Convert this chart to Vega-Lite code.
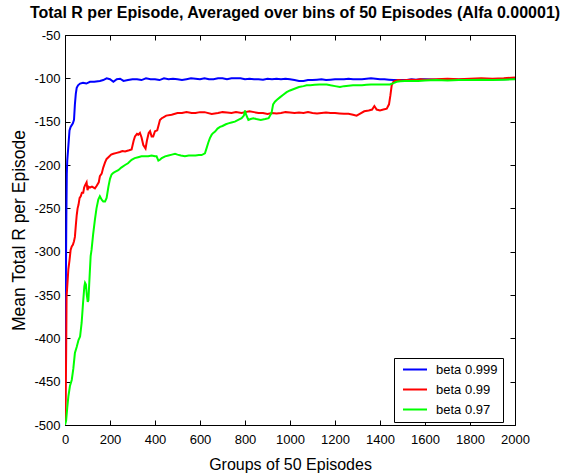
{
  "$schema": "https://vega.github.io/schema/vega-lite/v6.json",
  "width": 450,
  "height": 390,
  "autosize": {"type": "none"},
  "padding": {"left": 65, "top": 35, "right": 50, "bottom": 48},
  "background": "white",
  "title": {
    "text": "Total R per Episode, Averaged over bins of 50 Episodes (Alfa 0.00001)",
    "font": "Liberation Sans",
    "fontSize": 16,
    "fontWeight": "bold",
    "color": "black",
    "anchor": "middle",
    "frame": "group",
    "dx": 5,
    "offset": 8
  },
  "config": {
    "view": {"stroke": "black", "strokeWidth": 1},
    "axis": {"grid": false, "domain": false, "labelFont": "Liberation Sans", "titleFont": "Liberation Sans", "labelColor": "black", "titleColor": "black", "tickColor": "black", "labelFontSize": 13, "titleFontSize": 16, "titleFontWeight": "normal"}
  },
  "data": {"values": [
    {"s":"beta 0.999","x":0,"y":-500},{"s":"beta 0.999","x":2,"y":-420},{"s":"beta 0.999","x":4,"y":-330},{"s":"beta 0.999","x":6,"y":-260},{"s":"beta 0.999","x":8,"y":-210},{"s":"beta 0.999","x":10,"y":-195},{"s":"beta 0.999","x":15,"y":-178},{"s":"beta 0.999","x":20,"y":-160},{"s":"beta 0.999","x":25,"y":-156},{"s":"beta 0.999","x":30,"y":-154},{"s":"beta 0.999","x":35,"y":-152},{"s":"beta 0.999","x":40,"y":-148},{"s":"beta 0.999","x":44,"y":-130},{"s":"beta 0.999","x":48,"y":-118},{"s":"beta 0.999","x":52,"y":-111},{"s":"beta 0.999","x":58,"y":-108},{"s":"beta 0.999","x":67,"y":-106},{"s":"beta 0.999","x":80,"y":-105},{"s":"beta 0.999","x":95,"y":-106},{"s":"beta 0.999","x":111,"y":-104},{"s":"beta 0.999","x":130,"y":-104},{"s":"beta 0.999","x":155,"y":-103},{"s":"beta 0.999","x":170,"y":-102},{"s":"beta 0.999","x":185,"y":-100},{"s":"beta 0.999","x":200,"y":-101},{"s":"beta 0.999","x":215,"y":-104},{"s":"beta 0.999","x":230,"y":-101},{"s":"beta 0.999","x":245,"y":-100.5},{"s":"beta 0.999","x":260,"y":-103},{"s":"beta 0.999","x":280,"y":-102},{"s":"beta 0.999","x":300,"y":-101},{"s":"beta 0.999","x":320,"y":-101},{"s":"beta 0.999","x":340,"y":-102},{"s":"beta 0.999","x":360,"y":-100},{"s":"beta 0.999","x":380,"y":-101},{"s":"beta 0.999","x":400,"y":-101},{"s":"beta 0.999","x":420,"y":-102},{"s":"beta 0.999","x":440,"y":-100},{"s":"beta 0.999","x":460,"y":-101},{"s":"beta 0.999","x":480,"y":-100.5},{"s":"beta 0.999","x":500,"y":-101},{"s":"beta 0.999","x":520,"y":-102},{"s":"beta 0.999","x":540,"y":-101},{"s":"beta 0.999","x":560,"y":-100},{"s":"beta 0.999","x":580,"y":-100.5},{"s":"beta 0.999","x":600,"y":-101},{"s":"beta 0.999","x":620,"y":-100},{"s":"beta 0.999","x":640,"y":-101},{"s":"beta 0.999","x":660,"y":-101},{"s":"beta 0.999","x":680,"y":-100},{"s":"beta 0.999","x":700,"y":-100},{"s":"beta 0.999","x":720,"y":-101},{"s":"beta 0.999","x":740,"y":-100},{"s":"beta 0.999","x":760,"y":-100},{"s":"beta 0.999","x":780,"y":-100},{"s":"beta 0.999","x":800,"y":-101},{"s":"beta 0.999","x":820,"y":-100.5},{"s":"beta 0.999","x":840,"y":-101},{"s":"beta 0.999","x":860,"y":-101},{"s":"beta 0.999","x":880,"y":-101.5},{"s":"beta 0.999","x":900,"y":-100.5},{"s":"beta 0.999","x":920,"y":-101},{"s":"beta 0.999","x":940,"y":-100.5},{"s":"beta 0.999","x":960,"y":-101},{"s":"beta 0.999","x":980,"y":-100.5},{"s":"beta 0.999","x":1000,"y":-101},{"s":"beta 0.999","x":1020,"y":-102},{"s":"beta 0.999","x":1040,"y":-103},{"s":"beta 0.999","x":1060,"y":-103},{"s":"beta 0.999","x":1080,"y":-102},{"s":"beta 0.999","x":1100,"y":-102},{"s":"beta 0.999","x":1120,"y":-101.5},{"s":"beta 0.999","x":1140,"y":-101},{"s":"beta 0.999","x":1160,"y":-102},{"s":"beta 0.999","x":1180,"y":-101.5},{"s":"beta 0.999","x":1200,"y":-101},{"s":"beta 0.999","x":1220,"y":-101},{"s":"beta 0.999","x":1240,"y":-101},{"s":"beta 0.999","x":1260,"y":-100.5},{"s":"beta 0.999","x":1280,"y":-101},{"s":"beta 0.999","x":1300,"y":-101},{"s":"beta 0.999","x":1320,"y":-101},{"s":"beta 0.999","x":1340,"y":-100.5},{"s":"beta 0.999","x":1360,"y":-100},{"s":"beta 0.999","x":1380,"y":-100.5},{"s":"beta 0.999","x":1400,"y":-101},{"s":"beta 0.999","x":1420,"y":-101},{"s":"beta 0.999","x":1440,"y":-101.5},{"s":"beta 0.999","x":1460,"y":-102},{"s":"beta 0.999","x":1480,"y":-102},{"s":"beta 0.999","x":1500,"y":-102},{"s":"beta 0.999","x":1520,"y":-102},{"s":"beta 0.999","x":1540,"y":-101},{"s":"beta 0.999","x":1560,"y":-101.5},{"s":"beta 0.999","x":1580,"y":-101},{"s":"beta 0.999","x":1600,"y":-101},{"s":"beta 0.999","x":1650,"y":-101.5},{"s":"beta 0.999","x":1700,"y":-101},{"s":"beta 0.999","x":1750,"y":-101.5},{"s":"beta 0.999","x":1800,"y":-101},{"s":"beta 0.999","x":1850,"y":-101.5},{"s":"beta 0.999","x":1900,"y":-101},{"s":"beta 0.999","x":1950,"y":-101},{"s":"beta 0.999","x":2000,"y":-100.5},

    {"s":"beta 0.99","x":0,"y":-500},{"s":"beta 0.99","x":3,"y":-470},{"s":"beta 0.99","x":5,"y":-420},{"s":"beta 0.99","x":7,"y":-352},{"s":"beta 0.99","x":10,"y":-340},{"s":"beta 0.99","x":15,"y":-320},{"s":"beta 0.99","x":20,"y":-310},{"s":"beta 0.99","x":25,"y":-298},{"s":"beta 0.99","x":30,"y":-294},{"s":"beta 0.99","x":35,"y":-292},{"s":"beta 0.99","x":40,"y":-288},{"s":"beta 0.99","x":44,"y":-283},{"s":"beta 0.99","x":48,"y":-270},{"s":"beta 0.99","x":52,"y":-258},{"s":"beta 0.99","x":56,"y":-250},{"s":"beta 0.99","x":60,"y":-246},{"s":"beta 0.99","x":65,"y":-238},{"s":"beta 0.99","x":70,"y":-236},{"s":"beta 0.99","x":75,"y":-232},{"s":"beta 0.99","x":81,"y":-232},{"s":"beta 0.99","x":85,"y":-226},{"s":"beta 0.99","x":90,"y":-223},{"s":"beta 0.99","x":96,"y":-220},{"s":"beta 0.99","x":100,"y":-229},{"s":"beta 0.99","x":105,"y":-225},{"s":"beta 0.99","x":111,"y":-226},{"s":"beta 0.99","x":120,"y":-225},{"s":"beta 0.99","x":133,"y":-227},{"s":"beta 0.99","x":141,"y":-224},{"s":"beta 0.99","x":150,"y":-220},{"s":"beta 0.99","x":155,"y":-213},{"s":"beta 0.99","x":163,"y":-210},{"s":"beta 0.99","x":170,"y":-203},{"s":"beta 0.99","x":178,"y":-197},{"s":"beta 0.99","x":185,"y":-193},{"s":"beta 0.99","x":193,"y":-191},{"s":"beta 0.99","x":205,"y":-188},{"s":"beta 0.99","x":215,"y":-187},{"s":"beta 0.99","x":230,"y":-186},{"s":"beta 0.99","x":244,"y":-185},{"s":"beta 0.99","x":255,"y":-184},{"s":"beta 0.99","x":267,"y":-184.5},{"s":"beta 0.99","x":285,"y":-183},{"s":"beta 0.99","x":296,"y":-182},{"s":"beta 0.99","x":305,"y":-172},{"s":"beta 0.99","x":311,"y":-167},{"s":"beta 0.99","x":320,"y":-164},{"s":"beta 0.99","x":326,"y":-165},{"s":"beta 0.99","x":333,"y":-163},{"s":"beta 0.99","x":340,"y":-168},{"s":"beta 0.99","x":348,"y":-177},{"s":"beta 0.99","x":358,"y":-181},{"s":"beta 0.99","x":364,"y":-172},{"s":"beta 0.99","x":372,"y":-163},{"s":"beta 0.99","x":378,"y":-161},{"s":"beta 0.99","x":385,"y":-167},{"s":"beta 0.99","x":392,"y":-167},{"s":"beta 0.99","x":400,"y":-161},{"s":"beta 0.99","x":410,"y":-160},{"s":"beta 0.99","x":418,"y":-152},{"s":"beta 0.99","x":422,"y":-148},{"s":"beta 0.99","x":430,"y":-146},{"s":"beta 0.99","x":437,"y":-145},{"s":"beta 0.99","x":450,"y":-143},{"s":"beta 0.99","x":474,"y":-142},{"s":"beta 0.99","x":500,"y":-140},{"s":"beta 0.99","x":520,"y":-140},{"s":"beta 0.99","x":540,"y":-139},{"s":"beta 0.99","x":563,"y":-140},{"s":"beta 0.99","x":580,"y":-140},{"s":"beta 0.99","x":600,"y":-139},{"s":"beta 0.99","x":620,"y":-139},{"s":"beta 0.99","x":652,"y":-141},{"s":"beta 0.99","x":680,"y":-140},{"s":"beta 0.99","x":700,"y":-139},{"s":"beta 0.99","x":720,"y":-139.5},{"s":"beta 0.99","x":740,"y":-140},{"s":"beta 0.99","x":760,"y":-139},{"s":"beta 0.99","x":785,"y":-140},{"s":"beta 0.99","x":800,"y":-139},{"s":"beta 0.99","x":820,"y":-138},{"s":"beta 0.99","x":840,"y":-139},{"s":"beta 0.99","x":860,"y":-140},{"s":"beta 0.99","x":880,"y":-140},{"s":"beta 0.99","x":900,"y":-141},{"s":"beta 0.99","x":920,"y":-140},{"s":"beta 0.99","x":940,"y":-140.5},{"s":"beta 0.99","x":960,"y":-140},{"s":"beta 0.99","x":980,"y":-139},{"s":"beta 0.99","x":1000,"y":-139.5},{"s":"beta 0.99","x":1020,"y":-140},{"s":"beta 0.99","x":1040,"y":-139.5},{"s":"beta 0.99","x":1060,"y":-140},{"s":"beta 0.99","x":1080,"y":-139},{"s":"beta 0.99","x":1100,"y":-140},{"s":"beta 0.99","x":1120,"y":-140.5},{"s":"beta 0.99","x":1140,"y":-140},{"s":"beta 0.99","x":1160,"y":-139.5},{"s":"beta 0.99","x":1180,"y":-140},{"s":"beta 0.99","x":1200,"y":-140},{"s":"beta 0.99","x":1220,"y":-140.5},{"s":"beta 0.99","x":1240,"y":-141},{"s":"beta 0.99","x":1260,"y":-141},{"s":"beta 0.99","x":1280,"y":-142},{"s":"beta 0.99","x":1296,"y":-143},{"s":"beta 0.99","x":1310,"y":-141},{"s":"beta 0.99","x":1330,"y":-138},{"s":"beta 0.99","x":1350,"y":-137},{"s":"beta 0.99","x":1365,"y":-136},{"s":"beta 0.99","x":1375,"y":-132},{"s":"beta 0.99","x":1385,"y":-136},{"s":"beta 0.99","x":1400,"y":-137},{"s":"beta 0.99","x":1415,"y":-136},{"s":"beta 0.99","x":1430,"y":-135},{"s":"beta 0.99","x":1440,"y":-130},{"s":"beta 0.99","x":1446,"y":-120},{"s":"beta 0.99","x":1452,"y":-108},{"s":"beta 0.99","x":1460,"y":-104},{"s":"beta 0.99","x":1467,"y":-103},{"s":"beta 0.99","x":1480,"y":-102},{"s":"beta 0.99","x":1500,"y":-102.5},{"s":"beta 0.99","x":1520,"y":-102},{"s":"beta 0.99","x":1540,"y":-101.5},{"s":"beta 0.99","x":1560,"y":-102},{"s":"beta 0.99","x":1580,"y":-101},{"s":"beta 0.99","x":1600,"y":-101.5},{"s":"beta 0.99","x":1650,"y":-101},{"s":"beta 0.99","x":1700,"y":-100.5},{"s":"beta 0.99","x":1750,"y":-101},{"s":"beta 0.99","x":1800,"y":-100.5},{"s":"beta 0.99","x":1850,"y":-100},{"s":"beta 0.99","x":1900,"y":-100.5},{"s":"beta 0.99","x":1950,"y":-100},{"s":"beta 0.99","x":2000,"y":-99},

    {"s":"beta 0.97","x":0,"y":-500},{"s":"beta 0.97","x":5,"y":-495},{"s":"beta 0.97","x":10,"y":-480},{"s":"beta 0.97","x":15,"y":-467},{"s":"beta 0.97","x":22,"y":-455},{"s":"beta 0.97","x":30,"y":-448},{"s":"beta 0.97","x":37,"y":-435},{"s":"beta 0.97","x":44,"y":-417},{"s":"beta 0.97","x":52,"y":-410},{"s":"beta 0.97","x":60,"y":-402},{"s":"beta 0.97","x":67,"y":-398},{"s":"beta 0.97","x":74,"y":-382},{"s":"beta 0.97","x":80,"y":-360},{"s":"beta 0.97","x":86,"y":-340},{"s":"beta 0.97","x":89,"y":-336},{"s":"beta 0.97","x":93,"y":-338},{"s":"beta 0.97","x":97,"y":-350},{"s":"beta 0.97","x":101,"y":-358},{"s":"beta 0.97","x":104,"y":-356},{"s":"beta 0.97","x":110,"y":-325},{"s":"beta 0.97","x":114,"y":-305},{"s":"beta 0.97","x":118,"y":-298},{"s":"beta 0.97","x":125,"y":-280},{"s":"beta 0.97","x":133,"y":-263},{"s":"beta 0.97","x":140,"y":-250},{"s":"beta 0.97","x":148,"y":-240},{"s":"beta 0.97","x":155,"y":-236},{"s":"beta 0.97","x":163,"y":-240},{"s":"beta 0.97","x":170,"y":-242},{"s":"beta 0.97","x":178,"y":-242},{"s":"beta 0.97","x":185,"y":-238},{"s":"beta 0.97","x":193,"y":-225},{"s":"beta 0.97","x":200,"y":-216},{"s":"beta 0.97","x":207,"y":-211},{"s":"beta 0.97","x":215,"y":-209},{"s":"beta 0.97","x":222,"y":-208},{"s":"beta 0.97","x":237,"y":-206},{"s":"beta 0.97","x":250,"y":-203},{"s":"beta 0.97","x":267,"y":-200},{"s":"beta 0.97","x":280,"y":-198},{"s":"beta 0.97","x":296,"y":-194},{"s":"beta 0.97","x":310,"y":-192},{"s":"beta 0.97","x":325,"y":-191},{"s":"beta 0.97","x":340,"y":-190},{"s":"beta 0.97","x":356,"y":-190},{"s":"beta 0.97","x":370,"y":-190},{"s":"beta 0.97","x":385,"y":-189},{"s":"beta 0.97","x":400,"y":-190},{"s":"beta 0.97","x":407,"y":-190},{"s":"beta 0.97","x":415,"y":-195},{"s":"beta 0.97","x":422,"y":-194},{"s":"beta 0.97","x":430,"y":-192},{"s":"beta 0.97","x":445,"y":-190},{"s":"beta 0.97","x":460,"y":-189},{"s":"beta 0.97","x":475,"y":-188},{"s":"beta 0.97","x":489,"y":-187},{"s":"beta 0.97","x":500,"y":-188},{"s":"beta 0.97","x":515,"y":-189},{"s":"beta 0.97","x":533,"y":-190},{"s":"beta 0.97","x":550,"y":-189},{"s":"beta 0.97","x":565,"y":-189},{"s":"beta 0.97","x":580,"y":-189},{"s":"beta 0.97","x":595,"y":-188.5},{"s":"beta 0.97","x":607,"y":-188.5},{"s":"beta 0.97","x":622,"y":-186.5},{"s":"beta 0.97","x":630,"y":-180},{"s":"beta 0.97","x":637,"y":-174},{"s":"beta 0.97","x":644,"y":-169},{"s":"beta 0.97","x":652,"y":-165},{"s":"beta 0.97","x":659,"y":-163},{"s":"beta 0.97","x":667,"y":-161.5},{"s":"beta 0.97","x":678,"y":-158},{"s":"beta 0.97","x":689,"y":-156},{"s":"beta 0.97","x":700,"y":-155},{"s":"beta 0.97","x":715,"y":-153},{"s":"beta 0.97","x":726,"y":-152},{"s":"beta 0.97","x":740,"y":-151},{"s":"beta 0.97","x":755,"y":-150},{"s":"beta 0.97","x":770,"y":-148},{"s":"beta 0.97","x":785,"y":-146},{"s":"beta 0.97","x":795,"y":-143},{"s":"beta 0.97","x":800,"y":-137},{"s":"beta 0.97","x":805,"y":-142},{"s":"beta 0.97","x":815,"y":-148},{"s":"beta 0.97","x":825,"y":-147},{"s":"beta 0.97","x":837,"y":-146},{"s":"beta 0.97","x":850,"y":-147},{"s":"beta 0.97","x":870,"y":-148},{"s":"beta 0.97","x":890,"y":-147},{"s":"beta 0.97","x":905,"y":-146},{"s":"beta 0.97","x":918,"y":-140},{"s":"beta 0.97","x":925,"y":-130},{"s":"beta 0.97","x":933,"y":-127},{"s":"beta 0.97","x":941,"y":-125},{"s":"beta 0.97","x":955,"y":-122},{"s":"beta 0.97","x":970,"y":-119},{"s":"beta 0.97","x":985,"y":-116},{"s":"beta 0.97","x":1000,"y":-114},{"s":"beta 0.97","x":1020,"y":-112},{"s":"beta 0.97","x":1040,"y":-110},{"s":"beta 0.97","x":1060,"y":-109},{"s":"beta 0.97","x":1074,"y":-108},{"s":"beta 0.97","x":1090,"y":-108},{"s":"beta 0.97","x":1110,"y":-107.5},{"s":"beta 0.97","x":1130,"y":-107},{"s":"beta 0.97","x":1150,"y":-107},{"s":"beta 0.97","x":1163,"y":-107},{"s":"beta 0.97","x":1180,"y":-108},{"s":"beta 0.97","x":1200,"y":-109},{"s":"beta 0.97","x":1222,"y":-110},{"s":"beta 0.97","x":1240,"y":-109},{"s":"beta 0.97","x":1260,"y":-108.5},{"s":"beta 0.97","x":1280,"y":-108},{"s":"beta 0.97","x":1296,"y":-108},{"s":"beta 0.97","x":1320,"y":-108},{"s":"beta 0.97","x":1340,"y":-107.5},{"s":"beta 0.97","x":1360,"y":-107},{"s":"beta 0.97","x":1380,"y":-107},{"s":"beta 0.97","x":1400,"y":-107},{"s":"beta 0.97","x":1420,"y":-107},{"s":"beta 0.97","x":1444,"y":-107},{"s":"beta 0.97","x":1460,"y":-105.5},{"s":"beta 0.97","x":1474,"y":-104},{"s":"beta 0.97","x":1490,"y":-103.5},{"s":"beta 0.97","x":1510,"y":-103},{"s":"beta 0.97","x":1530,"y":-103},{"s":"beta 0.97","x":1550,"y":-103},{"s":"beta 0.97","x":1570,"y":-103},{"s":"beta 0.97","x":1600,"y":-102.5},{"s":"beta 0.97","x":1650,"y":-102},{"s":"beta 0.97","x":1700,"y":-102.5},{"s":"beta 0.97","x":1750,"y":-102},{"s":"beta 0.97","x":1800,"y":-102},{"s":"beta 0.97","x":1850,"y":-101.5},{"s":"beta 0.97","x":1900,"y":-102},{"s":"beta 0.97","x":1950,"y":-101.5},{"s":"beta 0.97","x":2000,"y":-101}
  ]},
  "layer": [
    {
      "mark": {"type": "line", "strokeWidth": 2, "clip": true},
      "encoding": {
        "x": {"field": "x", "type": "quantitative", "scale": {"domain": [0, 2000], "nice": false, "zero": false},
              "axis": {"orient": "bottom", "values": [0,200,400,600,800,1000,1200,1400,1600,1800,2000], "labelExpr": "'' + datum.value", "tickSize": -5, "labelPadding": 13, "labelFlush": false, "title": "Groups of 50 Episodes", "titleY": 44, "titleBaseline": "alphabetic"}},
        "y": {"field": "y", "type": "quantitative", "scale": {"domain": [-500, -50], "nice": false, "zero": false},
              "axis": {"orient": "left", "values": [-500,-450,-400,-350,-300,-250,-200,-150,-100,-50], "labelExpr": "'' + datum.value", "tickSize": -5, "labelPadding": 10, "labelFlush": false, "title": "Mean Total R per Episode", "titleFontSize": 17.5, "titleX": -37, "titleY": 195, "titleAngle": -90, "titleBaseline": "bottom", "titleAlign": "center"}},
        "color": {"field": "s", "type": "nominal", "sort": null,
                  "scale": {"domain": ["beta 0.999", "beta 0.99", "beta 0.97"], "range": ["#0000ff", "#ff0000", "#00ff00"]},
                  "legend": {"title": null, "orient": "none", "legendX": 329, "legendY": 323, "direction": "vertical",
                             "strokeColor": "black", "fillColor": "white", "padding": 5, "symbolType": "stroke", "symbolSize": 576, "symbolStrokeWidth": 2, "symbolOffset": 3, "clipHeight": 13,
                             "labelFont": "Liberation Sans", "labelFontSize": 13, "labelColor": "black", "labelOffset": 8, "rowPadding": 6, "labelLimit": 200}}
      }
    },
    {
      "mark": {"type": "line", "strokeOpacity": 0},
      "encoding": {
        "x": {"field": "x", "type": "quantitative", "axis": {"orient": "top", "values": [0,200,400,600,800,1000,1200,1400,1600,1800,2000], "tickSize": -5, "labels": false, "title": null}},
        "y": {"field": "y", "type": "quantitative", "axis": {"orient": "right", "values": [-500,-450,-400,-350,-300,-250,-200,-150,-100,-50], "tickSize": -5, "labels": false, "title": null}},
        "detail": {"field": "s"}
      }
    }
  ],
  "resolve": {"axis": {"x": "independent", "y": "independent"}}
}
